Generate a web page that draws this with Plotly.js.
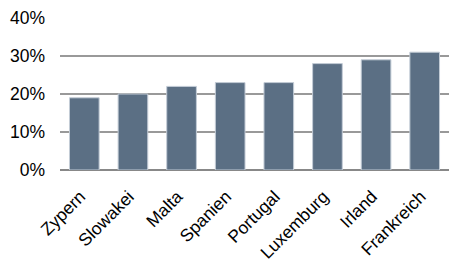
<!DOCTYPE html>
<html><head><meta charset="utf-8">
<script src="https://cdn.plot.ly/plotly-3.0.1.min.js"></script>
<style>html,body{margin:0;padding:0;background:#fff;}</style>
</head><body>
<div id="chart" style="width:449px;height:262px;"></div>
<script>
const categories = ["Zypern","Slowakei","Malta","Spanien","Portugal","Luxemburg","Irland","Frankreich"];
const values = [0.19,0.20,0.22,0.23,0.23,0.28,0.29,0.31];
const tickVals = [0,0.1,0.2,0.3,0.4];
const tickText = ["0%","10%","20%","30%","40%"];

Plotly.newPlot('chart', [{
  type: 'bar',
  x: categories,
  y: values,
  marker: {color: '#5b6f84', line: {color: '#c3ccd6', width: 1}},
  hoverinfo: 'none'
}], {
  width: 449, height: 262,
  margin: {l: 60, r: 0, t: 18, b: 92},
  paper_bgcolor: '#fff', plot_bgcolor: '#fff',
  bargap: 0.39,
  showlegend: false,
  font: {family: 'Liberation Sans, Arial, sans-serif', color: '#000'},
  xaxis: {
    tickangle: -45,
    tickfont: {size: 17.5, color: '#000'},
    showgrid: false,
    ticks: '',
    ticklabelstandoff: 12,
    ticklabelshift: -4,
    showline: false,
    automargin: false
  },
  yaxis: {
    range: [0, 0.4],
    tickvals: tickVals,
    ticktext: tickText,
    tickfont: {size: 17.5, color: '#000'},
    showgrid: true,
    gridcolor: '#999',
    gridwidth: 1.5,
    zeroline: true,
    zerolinecolor: '#888',
    zerolinewidth: 1.5,
    ticks: '',
    ticklabelstandoff: 14,
    showline: false,
    automargin: false
  }
}, {displayModeBar: false, staticPlot: true});
</script>
</body></html>
